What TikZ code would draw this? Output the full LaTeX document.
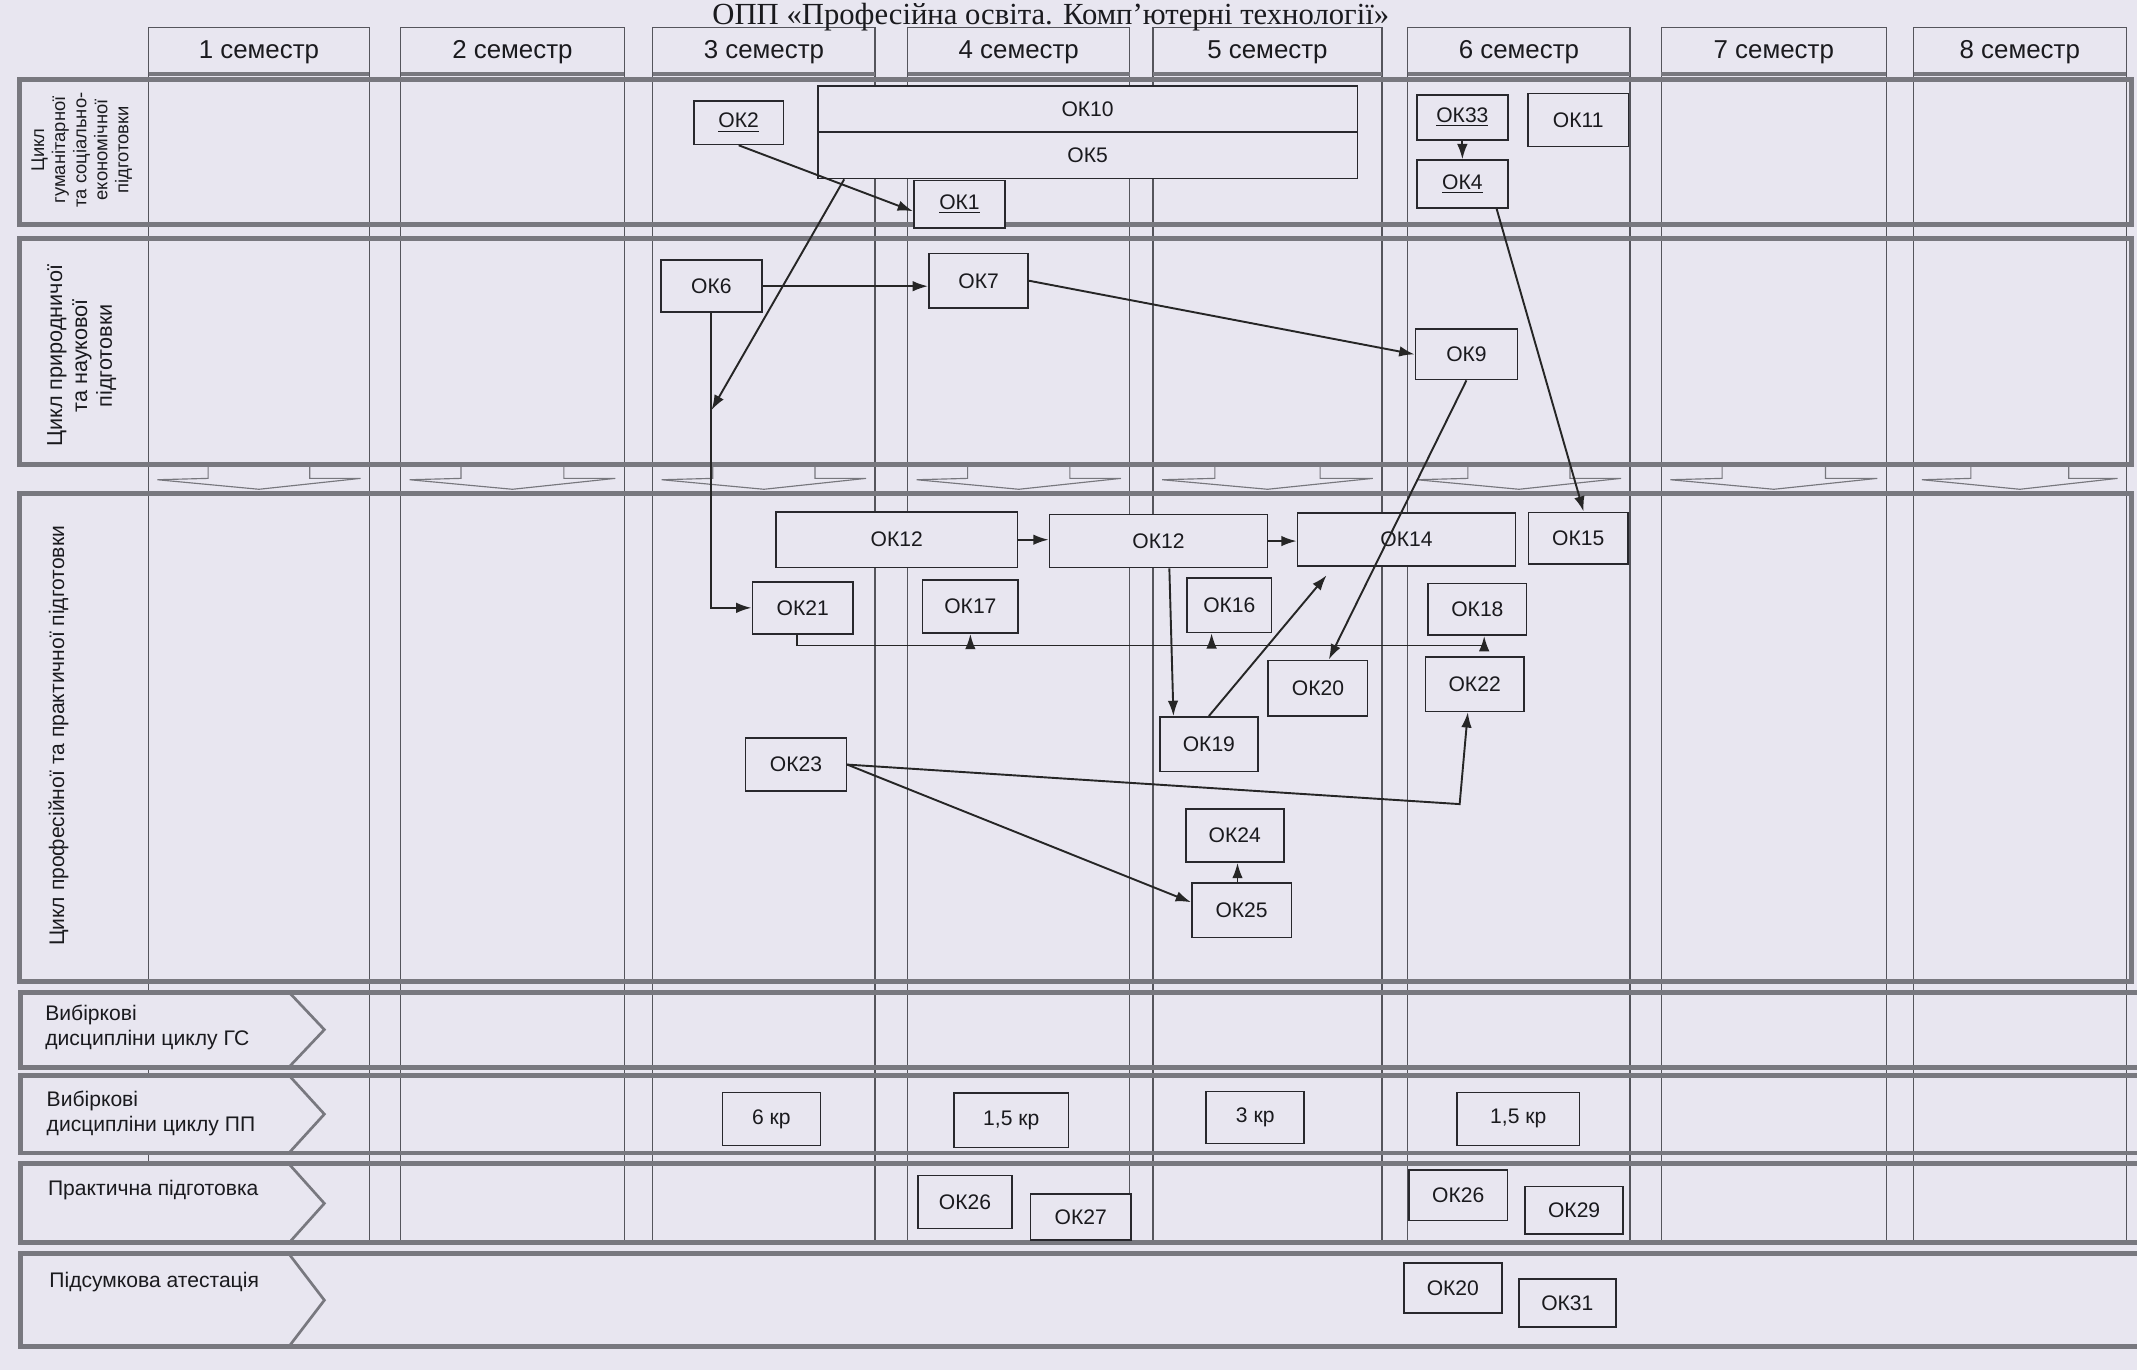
\documentclass[tikz,border=0pt]{standalone}
\usepackage{fontspec}
\setmainfont{Liberation Sans}
\newfontfamily\titlefont{Liberation Serif}
\usepackage{xcolor}
\definecolor{paperTint}{HTML}{E8E6F0}
\definecolor{bandGray}{HTML}{78787F}
\definecolor{gridGray}{HTML}{55555C}
\definecolor{boxLine}{HTML}{28282D}
\definecolor{inkText}{HTML}{1A1A1E}
\usetikzlibrary{arrows.meta, calc, positioning}
\tikzset{
    % Base style for all texts
    sheet base/.style={
        font=\fontsize{11}{13}\selectfont,
        text=inkText,
        align=center,
        inner sep=0pt,
    },
    % Size given in sheet units
    wh/.style 2 args={
        minimum width=#1*0.025cm,
        minimum height=#2*0.025cm,
    },
    % Course boxes
    course/.style={
        sheet base,
        rectangle,
        draw=boxLine,
        line width=0.85pt,
        fill=paperTint,
        wh={72}{38},
    },
    % Semester heading text
    semester head/.style={
        sheet base,
        font=\fontsize{13.5}{16}\selectfont,
    },
    % Semester column frame
    column frame/.style={
        draw=gridGray,
        line width=0.55pt,
    },
    % Thick band border
    band line/.style={
        draw=bandGray,
        line width=2.6pt,
    },
    % Arrow-shaped tab of the lower cycles
    cycle tab/.style={
        draw=bandGray,
        line width=1.4pt,
        fill=paperTint,
    },
    % Flat arrow between the bands
    drop mark/.style={
        draw=gridGray!80,
        line width=0.6pt,
    },
    % Rotated cycle title
    cycle text/.style={
        sheet base,
        rotate=90,
    },
    % Text in the tabs
    tab text/.style={
        sheet base,
        align=left,
    },
    % Connectors
    arrow/.style={
        -{Latex[length=8pt, width=5.5pt]},
        line width=1pt,
        draw=black!85,
    },
    link/.style={
        line width=1pt,
        draw=black!85,
    },
}

\begin{document}
\begin{tikzpicture}[x=0.025cm, y=-0.025cm]
    % Page
    \path[use as bounding box, fill=paperTint] (0,0) rectangle (1568,1005);

    % Semester columns with headings and drop marks
    \foreach \lft/\rgt [count=\sem] in {109/271, 294/458, 479/642, 666/829, 846/1014, 1033/1196, 1219/1384, 1404/1560}{
        \pgfmathsetmacro\colw{\rgt-\lft}
        \draw[column frame] (\lft,20) rectangle (\rgt,912);
        \draw[band line, line width=2pt] (\lft,54) -- (\rgt,54);
        \node[semester head] (sem\sem) at ({(\lft+\rgt)/2},38) {\sem{} семестр};
        \draw[drop mark] ({\lft+0.27*\colw},341) -- ({\lft+0.27*\colw},351)
            -- ({\lft+0.04*\colw},352) -- ({\lft+0.5*\colw},359)
            -- ({\lft+0.96*\colw},351) -- ({\lft+0.73*\colw},351)
            -- ({\lft+0.73*\colw},341);
    }

    % Upper cycles
    \draw[band line] (14,58) rectangle (1564,165);
    \draw[band line] (14,175) rectangle (1564,341);
    \draw[band line] (14,362) rectangle (1564,720);
    % Lower cycles
    \foreach \tp/\bt in {728/783, 789/846, 854/912, 920/988}{
        \draw[cycle tab] (15,\tp) -- (212,\tp) -- (238,{(\tp+\bt)/2}) -- (212,\bt) -- (15,\bt) -- cycle;
        \draw[band line] (1600,\tp) -- (15,\tp) -- (15,\bt) -- (1600,\bt);
    }

    % Cycle titles
    \node[cycle text, font=\fontsize{9.6}{11}\selectfont] (cycHum) at (60,110) {Цикл\\гуманітарної\\та соціально-\\економічної\\підготовки};
    \node[cycle text, font=\fontsize{11.3}{13}\selectfont] (cycNat) at (60,261) {Цикл природничої\\та наукової\\підготовки};
    \node[cycle text] (cycPro) at (43,540) {Цикл професійної та практичної підготовки};
    \node[tab text, anchor=west] (tabGS) at (33,754) {Вибіркові\\дисципліни циклу ГС};
    \node[tab text, anchor=west] (tabPP) at (34,817) {Вибіркові\\дисципліни циклу ПП};
    \node[tab text, anchor=base west] (tabPrac) at (35,877) {Практична підготовка};
    \node[tab text, anchor=base west] (tabFin) at (36,945) {Підсумкова атестація};

    % Humanities cycle
    \node[course, wh={66}{32}] (ok2) at (542,90) {\underline{ОК2}};
    \node[course, wh={396}{34}] (ok10) at (798,80) {ОК10};
    \node[course, wh={396}{34}] (ok5) at (798,114) {ОК5};
    \node[course, wh={67}{35}] (ok1) at (704,150) {\underline{ОК1}};
    \node[course, wh={67}{33}] (ok33) at (1073,86) {\underline{ОК33}};
    \node[course, wh={74}{39}] (ok11) at (1158,88) {ОК11};
    \node[course, wh={67}{35}] (ok4) at (1073,135) {\underline{ОК4}};

    % Natural science cycle
    \node[course, wh={74}{38}] (ok6) at (522,210) {ОК6};
    \node[course, wh={73}{40}] (ok7) at (718,206) {ОК7};
    \node[course, wh={75}{37}] (ok9) at (1076,260) {ОК9};

    % Professional cycle
    \node[course, wh={177}{41}] (ok12a) at (658,396) {ОК12};
    \node[course, wh={160}{39}] (ok12b) at (850,397) {ОК12};
    \node[course, wh={160}{39}] (ok14) at (1032,396) {ОК14};
    \node[course, wh={73}{38}] (ok15) at (1158,395) {ОК15};
    \node[course, wh={74}{38}] (ok21) at (589,446) {ОК21};
    \node[course, wh={70}{39}] (ok17) at (712,445) {ОК17};
    \node[course, wh={62}{40}] (ok16) at (902,444) {ОК16};
    \node[course, wh={72}{38}] (ok18) at (1084,447) {ОК18};
    \node[course, wh={73}{41}] (ok20) at (967,505) {ОК20};
    \node[course, wh={72}{40}] (ok22) at (1082,502) {ОК22};
    \node[course, wh={72}{40}] (ok19) at (887,546) {ОК19};
    \node[course, wh={74}{39}] (ok23) at (584,561) {ОК23};
    \node[course, wh={72}{39}] (ok24) at (906,613) {ОК24};
    \node[course, wh={73}{40}] (ok25) at (911,668) {ОК25};

    % Electives, practice, attestation
    \node[course, wh={72}{39}] (kr6) at (566,821) {6 кр};
    \node[course, wh={84}{40}] (kr15a) at (742,822) {1,5 кр};
    \node[course, wh={72}{38}] (kr3) at (921,820) {3 кр};
    \node[course, wh={90}{39}] (kr15b) at (1114,821) {1,5 кр};
    \node[course, wh={69}{39}] (ok26a) at (708,882) {ОК26};
    \node[course, wh={74}{34}] (ok27) at (793,893) {ОК27};
    \node[course, wh={72}{37}] (ok26b) at (1070,877) {ОК26};
    \node[course, wh={72}{35}] (ok29) at (1155,888) {ОК29};
    \node[course, wh={72}{37}] (ok20b) at (1066,945) {ОК20};
    \node[course, wh={71}{35}] (ok31) at (1150,956) {ОК31};

    % Helper points
    \coordinate (ok5drop) at (ok6.south |- 0,301);
    \coordinate (ok21tap) at ($(ok21.south)+(-4,8)$);
    \coordinate (ok16tip) at ($(ok16.south)+(-13,0)$);
    \coordinate (ok18tip) at ($(ok18.south)+(5,0)$);
    \coordinate (ok22bend) at (1071,590);

    % Connectors
    \draw[arrow] (ok2.south) -- ($(ok1.west)+(0,5)$);
    \draw[arrow] ($(ok5.south west)+(20,0)$) -- (ok5drop);
    \draw[arrow] (ok6.south) |- (ok21.west);
    \draw[arrow] (ok6.east) -- (ok6.east -| ok7.west);
    \draw[arrow] (ok7.east) -- (ok9.west);
    \draw[arrow] (ok33.south) -- (ok4.north);
    \draw[arrow] ($(ok4.south east)+(-9,0)$) -- ($(ok15.north)+(4,0)$);
    \draw[arrow] (ok9.south) -- ($(ok20.north)+(8,0)$);
    \draw[arrow] (ok12a.east) -- (ok12a.east -| ok12b.west);
    \draw[arrow] (ok12b.east) -- (ok12b.east -| ok14.west);
    \draw[arrow] ($(ok12b.south)+(8,0)$) -- ($(ok19.north)+(-26,0)$);
    \draw[arrow] (ok19.north) -- ($(ok14.south west)+(22,6)$);
    \draw[link] (ok21tap |- ok21.south) -- (ok21tap) -- ($(ok21tap -| ok18tip)+(2,0)$);
    \draw[arrow] (ok21tap -| ok17.south) -- (ok17.south);
    \draw[arrow] (ok21tap -| ok16tip) -- (ok16tip);
    \draw[arrow] (ok21tap -| ok18tip) -- (ok18tip);
    \draw[arrow] (ok23.east) -- ($(ok25.west)+(0,-6)$);
    \draw[arrow] (ok23.east) -- (ok22bend) -- ($(ok22.south)+(-5,0)$);
    \draw[arrow] ($(ok25.north)+(-3,0)$) -- ($(ok24.south)+(2,0)$);

    % Title
    \node[anchor=base, font=\titlefont\fontsize{16}{19}\selectfont, text=inkText] (title) at (771,18) {ОПП «Професійна освіта. Комп’ютерні технології»};
\end{tikzpicture}
\end{document}
